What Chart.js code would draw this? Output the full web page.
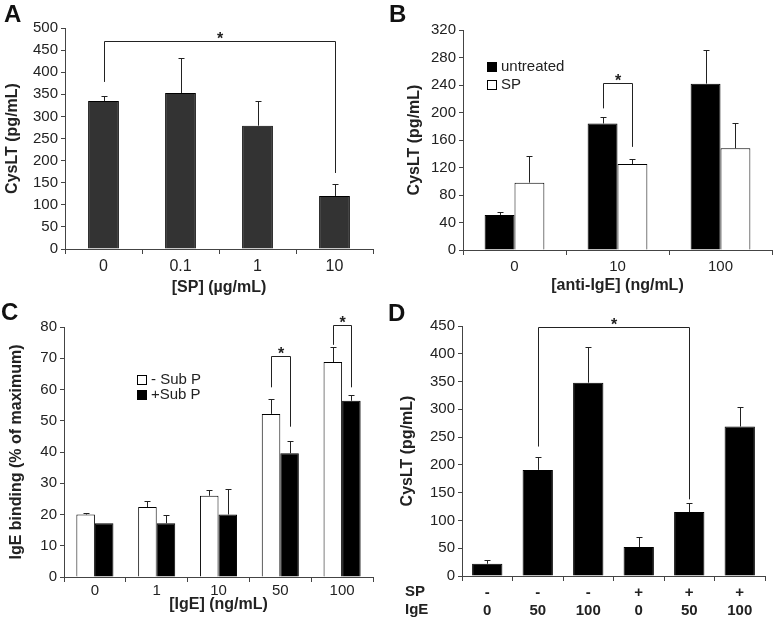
<!DOCTYPE html>
<html>
<head>
<meta charset="utf-8">
<script src="https://cdn.jsdelivr.net/npm/chart.js@4.4.1/dist/chart.umd.min.js"></script>
<style>
  body { margin: 0; background: #fff; }
  #fig { position: relative; width: 774px; height: 619px; }
  #fig canvas { position: absolute; }
  .tag { position: absolute; font: bold 24px 'Liberation Sans', Arial, sans-serif; line-height: 24px; color: #111; }
</style>
</head>
<body>
<div id="fig">
  <canvas id="chartA" width="385" height="300" style="left:0;top:0"></canvas>
  <canvas id="chartB" width="389" height="300" style="left:385px;top:0"></canvas>
  <canvas id="chartC" width="390" height="319" style="left:0;top:300px"></canvas>
  <canvas id="chartD" width="389" height="319" style="left:385px;top:300px"></canvas>
  <div class="tag" style="left:4px;top:2px">A</div>
  <div class="tag" style="left:389px;top:2px">B</div>
  <div class="tag" style="left:1px;top:300px">C</div>
  <div class="tag" style="left:388px;top:301px">D</div>
</div>
<script>
// panel A
const doseA = ["0", "0.1", "1", "10"];
const cyslA = [335, 353, 279, 120];
const semA = [12, 79, 56, 27];

// panel B
const doseB = ["0", "10", "100"];
const untreatedB = [51, 184, 242];
const untreatedSemB = [4, 10, 49];
const spB = [98, 125, 148];
const spSemB = [39, 8, 37];

// panel C
const doseC = ["0", "1", "10", "50", "100"];
const minusSubP = [20, 22.4, 26, 52.2, 68.8];
const minusSubPSem = [0.4, 1.8, 2, 4.7, 4.8];
const plusSubP = [17.2, 17.2, 20, 39.6, 56.4];
const plusSubPSem = [0, 2.8, 8.2, 3.8, 2];

// panel D
const spRowD = ["-", "-", "-", "+", "+", "+"];
const igeRowD = ["0", "50", "100", "0", "50", "100"];
const cyslD = [22, 191, 348, 52, 115, 269];
const semD = [7, 24, 64, 19, 17, 36];

// significance brackets: bars joined [dataset, index], bracket top and leg ends (data units)
const bracketsA = [{ a: [0, 0], b: [0, 3], top: 470, legA: 378, legB: 172 }];
const bracketsB = [{ a: [0, 1], b: [1, 1], top: 243, legA: 206, legB: 150 }];
const bracketsC = [
  { a: [0, 3], b: [1, 3], top: 70.8, legA: 60.7, legB: 48.1 },
  { a: [0, 4], b: [1, 4], top: 80.7, legA: 74.3, legB: 60.7 }
];
const bracketsD = [{ a: [0, 1], b: [0, 4], top: 449, legA: 233, legB: 138 }];

const FONT = "'Liberation Sans', Arial, sans-serif";
const INK = "#222";
const AXIS = "#444";

const errorBars = {
  id: "errorBars",
  afterDatasetsDraw(chart) {
    const ctx = chart.ctx;
    const y = chart.scales.y;
    chart.data.datasets.forEach((ds, i) => {
      if (!ds.sem) return;
      chart.getDatasetMeta(i).data.forEach((bar, j) => {
        if (!ds.sem[j]) return;
        const x = Math.round(bar.x) + 0.5;
        const top = Math.round(y.getPixelForValue(ds.data[j] + ds.sem[j])) + 0.5;
        ctx.save();
        ctx.strokeStyle = INK;
        ctx.lineWidth = 1;
        ctx.beginPath();
        ctx.moveTo(x, bar.y);
        ctx.lineTo(x, top);
        ctx.moveTo(x - 3, top);
        ctx.lineTo(x + 3, top);
        ctx.stroke();
        ctx.restore();
      });
    });
  }
};

const sigBrackets = {
  id: "sigBrackets",
  afterDraw(chart, args, opts) {
    const ctx = chart.ctx;
    const y = chart.scales.y;
    (opts.items || []).forEach(b => {
      const xa = Math.round(chart.getDatasetMeta(b.a[0]).data[b.a[1]].x) + 0.5;
      const xb = Math.round(chart.getDatasetMeta(b.b[0]).data[b.b[1]].x) + 0.5;
      const yt = Math.round(y.getPixelForValue(b.top)) + 0.5;
      ctx.save();
      ctx.strokeStyle = INK;
      ctx.lineWidth = 1;
      ctx.beginPath();
      ctx.moveTo(xa, y.getPixelForValue(b.legA));
      ctx.lineTo(xa, yt);
      ctx.lineTo(xb, yt);
      ctx.lineTo(xb, y.getPixelForValue(b.legB));
      ctx.stroke();
      ctx.fillStyle = INK;
      ctx.font = "bold 16px " + FONT;
      ctx.textAlign = "center";
      ctx.textBaseline = "alphabetic";
      ctx.fillText("*", (xa + xb) / 2, yt + 2);
      ctx.restore();
    });
  }
};

const boxLegend = {
  id: "boxLegend",
  afterDraw(chart, args, opts) {
    if (!opts.x) return;
    const ctx = chart.ctx;
    ctx.save();
    ctx.font = "15px " + FONT;
    ctx.textBaseline = "middle";
    chart.data.datasets.forEach((ds, i) => {
      const cy = opts.y + i * opts.gap;
      ctx.fillStyle = ds.backgroundColor;
      ctx.fillRect(opts.x, cy - 5, 10, 10);
      ctx.strokeStyle = "#000";
      ctx.strokeRect(opts.x + 0.5, cy - 4.5, 9, 9);
      ctx.fillStyle = INK;
      ctx.fillText(ds.label, opts.x + 14, cy);
    });
    ctx.restore();
  }
};

const rowLabels = {
  id: "rowLabels",
  afterDraw(chart, args, opts) {
    if (!opts.rows) return;
    const ctx = chart.ctx;
    ctx.save();
    ctx.font = "bold 15px " + FONT;
    ctx.fillStyle = INK;
    ctx.textBaseline = "middle";
    opts.rows.forEach((t, i) => ctx.fillText(t, opts.x, opts.y + i * 18));
    ctx.restore();
  }
};

function makeChart(id, cfg) {
  const yAxis = {
    min: 0,
    max: cfg.yMax,
    afterFit: s => { s.width = cfg.yWidth; },
    ticks: { stepSize: cfg.yStep, color: INK, padding: 3, font: { family: FONT, size: 15 } },
    grid: { drawOnChartArea: false, tickLength: 4, color: AXIS },
    border: { color: AXIS },
    title: {
      display: true, text: cfg.yTitle, color: INK,
      padding: { top: 3, bottom: 0 },
      font: { family: FONT, size: 16, weight: "bold" }
    }
  };
  const xAxis = {
    afterFit: s => { s.height = cfg.xHeight; },
    ticks: {
      color: INK,
      padding: cfg.xTickPad !== undefined ? cfg.xTickPad : 3,
      font: { family: FONT, size: cfg.xTickSize || 15, weight: cfg.xTickBold ? "bold" : "normal" }
    },
    grid: { drawOnChartArea: false, tickLength: 5, color: AXIS },
    border: { color: AXIS },
    title: {
      display: !!cfg.xTitle, text: cfg.xTitle, color: INK,
      padding: { top: 0, bottom: cfg.xTitlePad || 4 },
      font: { family: FONT, size: 16, weight: "bold" }
    }
  };
  return new Chart(document.getElementById(id), {
    type: "bar",
    data: { labels: cfg.labels, datasets: cfg.datasets },
    options: {
      responsive: false,
      animation: false,
      layout: { padding: cfg.padding },
      datasets: { bar: { categoryPercentage: cfg.catPct, barPercentage: cfg.barPct, borderWidth: 1, borderColor: "#000" } },
      scales: { x: xAxis, y: yAxis },
      plugins: {
        legend: { display: false },
        tooltip: { enabled: false },
        sigBrackets: { items: cfg.brackets },
        boxLegend: cfg.legend || {},
        rowLabels: cfg.rows || {}
      }
    },
    plugins: [errorBars, sigBrackets, boxLegend, rowLabels]
  });
}

makeChart("chartA", {
  labels: doseA,
  datasets: [{ label: "CysLT", data: cyslA, sem: semA, backgroundColor: "#333" }],
  yMax: 500, yStep: 50, yTitle: "CysLT (pg/mL)", xTitle: "[SP] (\u00b5g/mL)",
  padding: { left: 0, top: 28, right: 12, bottom: 0 },
  yWidth: 65, xHeight: 51, xTitlePad: 3, xTickSize: 16,
  catPct: 1, barPct: 0.4,
  brackets: bracketsA
});

makeChart("chartB", {
  labels: doseB,
  datasets: [
    { label: "untreated", data: untreatedB, sem: untreatedSemB, backgroundColor: "#000" },
    { label: "SP", data: spB, sem: spSemB, backgroundColor: "#fff" }
  ],
  yMax: 320, yStep: 40, yTitle: "CysLT (pg/mL)", xTitle: "[anti-IgE] (ng/mL)",
  padding: { left: 17, top: 30, right: 2, bottom: 0 },
  yWidth: 61, xHeight: 50, xTitlePad: 5,
  catPct: 0.58, barPct: 1,
  brackets: bracketsB,
  legend: { x: 102, y: 67, gap: 18 }
});

makeChart("chartC", {
  labels: doseC,
  datasets: [
    { label: "- Sub P", data: minusSubP, sem: minusSubPSem, backgroundColor: "#fff" },
    { label: "+Sub P", data: plusSubP, sem: plusSubPSem, backgroundColor: "#000" }
  ],
  yMax: 80, yStep: 10, yTitle: "IgE binding (% of maximum)", xTitle: "[IgE] (ng/mL)",
  padding: { left: 4, top: 27, right: 17, bottom: 0 },
  yWidth: 60, xHeight: 42, xTitlePad: 5, xTickPad: 0,
  catPct: 0.6, barPct: 1,
  brackets: bracketsC,
  legend: { x: 137, y: 80, gap: 15 }
});

makeChart("chartD", {
  labels: spRowD.map((s, i) => [s, igeRowD[i]]),
  datasets: [{ label: "CysLT", data: cyslD, sem: semD, backgroundColor: "#000" }],
  yMax: 450, yStep: 50, yTitle: "CysLT (pg/mL)",
  padding: { left: 10, top: 26, right: 9, bottom: 0 },
  yWidth: 67, xHeight: 43, xTickBold: true,
  catPct: 1, barPct: 0.6,
  brackets: bracketsD,
  rows: { rows: ["SP", "IgE"], x: 20, y: 292 }
});
</script>
</body>
</html>
